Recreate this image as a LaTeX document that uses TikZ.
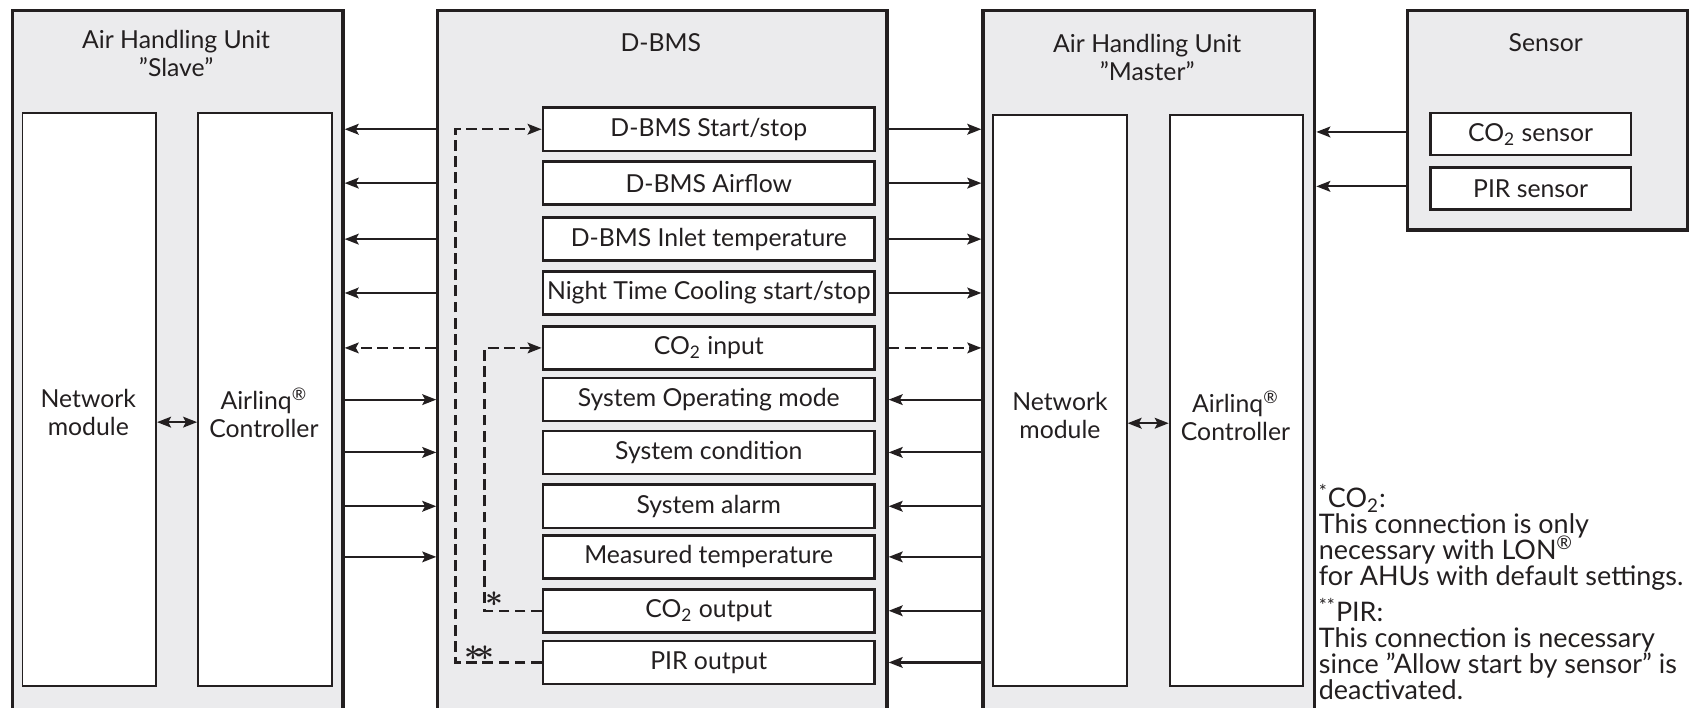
\documentclass[tikz,border=0pt]{standalone}
\usepackage{fontspec}
\setmainfont{Lato}
\usetikzlibrary{arrows.meta}
\definecolor{ink}{HTML}{231F20}
\definecolor{boxgray}{HTML}{EBEBED}
\newcommand\mynotesfont{\fontsize{12.5}{12}\selectfont\lineskiplimit=-20pt\relax\lineskip=0pt\relax}
\begin{document}
\begin{tikzpicture}[x=0.5pt,y=-0.5pt,
  every node/.style={text=ink, font=\fontsize{11.5}{13}\selectfont},
  outer/.style={draw=ink, line width=1.5pt, fill=boxgray, rectangle, inner sep=0pt, anchor=north west},
  inner/.style={draw=ink, line width=0.9pt, fill=white, rectangle, inner sep=0pt, anchor=north west},
  row/.style={draw=ink, line width=1.2pt, fill=white, rectangle, inner sep=0pt, minimum width=154pt, minimum height=20pt},
  srow/.style={draw=ink, line width=1.2pt, fill=white, rectangle, inner sep=0pt, minimum width=93pt, minimum height=19.5pt},
  title/.style={align=center, inner sep=0pt},
  arr/.style={-{Stealth[length=6.5pt,width=5pt,inset=1.3pt]}, line width=1pt, draw=ink},
  darr/.style={{Stealth[length=6.5pt,width=5pt,inset=1.3pt]}-{Stealth[length=6.5pt,width=5pt,inset=1.3pt]}, line width=1pt, draw=ink},
  dsh/.style={dash pattern=on 5pt off 2.5pt},
  star/.style={inner sep=0pt, font=\fontsize{14}{14}\selectfont\boldmath}
]
\useasboundingbox (0,0) rectangle (1568,657);

% outer boxes
\node[outer, minimum width=153.5pt, minimum height=327pt] (slave) at (10,8) {};
\node[outer, minimum width=208.5pt, minimum height=327pt] (dbms) at (405,8) {};
\node[outer, minimum width=154pt, minimum height=327pt] (master) at (911,8) {};
\node[outer, minimum width=130pt, minimum height=102pt] (sensor) at (1305,8) {};

% titles
\node[title] (slaveT) at (163.5,50) {Air Handling Unit\\”Slave”};
\node[title] (dbmsT) at (613.5,40) {D-BMS};
\node[title] (masterT) at (1065,53) {Air Handling Unit\\”Master”};
\node[title] (sensorT) at (1435,40) {Sensor};

% inner boxes
\node[inner, minimum width=62pt, minimum height=266pt] (snet) at (20,104) {};
\node[inner, minimum width=62pt, minimum height=266pt] (sctrl) at (183,104) {};
\node[inner, minimum width=62pt, minimum height=265pt] (mnet) at (921,106) {};
\node[inner, minimum width=62pt, minimum height=265pt] (mctrl) at (1085,106) {};

\node[title] (snetT) at (82,383) {Network\\module};
\node[title] (sctrlT) at (245,383) {Airlinq\textsuperscript{®}\\Controller};
\node[title] (mnetT) at (984,386) {Network\\module};
\node[title] (mctrlT) at (1147,386) {Airlinq\textsuperscript{®}\\Controller};

\draw[darr] ([yshift=-10.5pt]snet.east) -- ([yshift=-10.5pt]sctrl.west);
\draw[darr] ([yshift=-10.5pt]mnet.east) -- ([yshift=-10.5pt]mctrl.west);

% D-BMS rows
\node[row] (r1) at (658,120) {D-BMS Start/stop};
\node[row] (r2) at (658,170) {D-BMS Airflow};
\node[row] (r3) at (658,222) {D-BMS Inlet temperature};
\node[row] (r4) at (658,272) {Night Time Cooling start/stop};
\node[row] (r5) at (658,323) {CO\textsubscript{2} input};
\node[row] (r6) at (658,371) {System Operating mode};
\node[row] (r7) at (658,420) {System condition};
\node[row] (r8) at (658,470) {System alarm};
\node[row] (r9) at (658,517) {Measured temperature};
\node[row] (r10) at (658,567) {CO\textsubscript{2} output};
\node[row] (r11) at (658,615) {PIR output};

% sensor rows
\node[srow] (s1) at (1421,124.5) {CO\textsubscript{2} sensor};
\node[srow] (s2) at (1421,175) {PIR sensor};

% Slave <-> D-BMS
\foreach \r in {r1,r2,r3,r4}
  \draw[arr] (dbms.west |- \r) -- (slave.east |- \r);
\draw[arr, dsh] (dbms.west |- r5) -- (slave.east |- r5);
\foreach \r in {r6,r7,r8,r9}
  \draw[arr] (slave.east |- \r) -- (dbms.west |- \r);

% D-BMS <-> Master
\foreach \r in {r1,r2,r3,r4}
  \draw[arr] (dbms.east |- \r) -- (master.west |- \r);
\draw[arr, dsh] (dbms.east |- r5) -- (master.west |- r5);
\foreach \r in {r6,r7,r8,r9,r10,r11}
  \draw[arr] (master.west |- \r) -- (dbms.east |- \r);

% Sensor -> Master
\draw[arr] ([yshift=1pt]sensor.west |- s1) -- ([yshift=1pt]master.east |- s1);
\draw[arr] ([yshift=1pt]sensor.west |- s2) -- ([yshift=1pt]master.east |- s2);

% feedback dashed
\draw[arr, dsh] (r11.west) -- ++(-40pt,0) coordinate (c11) |- (r1.west);
\draw[arr, dsh] (r10.west) -- ++(-26.5pt,0) coordinate (c10) |- (r5.west);
\node[star] (st2) at ([xshift=11pt,yshift=4.5pt]c11) {$\ast\!\ast$};
\node[star] (st1) at ([xshift=4.5pt,yshift=5.5pt]c10) {$\ast$};

% notes
\node[anchor=north west, align=left, inner sep=0pt, font=\mynotesfont] (notes) at (1224,449) {%
\textsuperscript{*}CO\textsubscript{2}:\\
This connection is only\\
necessary with LON\textsuperscript{®}\\
for AHUs with default settings.\\[5pt]
\textsuperscript{**}PIR:\\
This connection is necessary\\
since ”Allow start by sensor” is\\
deactivated.};
\end{tikzpicture}
\end{document}
